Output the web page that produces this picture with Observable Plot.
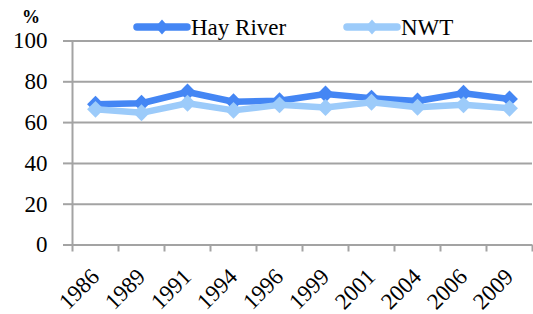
<!DOCTYPE html>
<html>
<head>
<meta charset="utf-8">
<script src="https://cdn.jsdelivr.net/npm/d3@7"></script>
<script src="https://cdn.jsdelivr.net/npm/@observablehq/plot@0.6"></script>
<style>
  body { margin: 0; background: white; }
  #wrap { position: relative; width: 533px; height: 314px; font-family: "Liberation Serif", "Times New Roman", Tinos, "DejaVu Serif", serif; }
  #pct { position: absolute; left: 22px; top: 7px; font-size: 18px; font-weight: bold; }
  .leg { position: absolute; top: 14px; display: flex; align-items: center; font-size: 23px; color: #000; }
  .leg svg { display: block; }
</style>
</head>
<body>
<div id="wrap">
  <div id="chart"></div>
  <div id="pct">%</div>
  <div class="leg" id="leg1" style="left:133px"></div>
  <div class="leg" id="leg2" style="left:343px"></div>
</div>
<script>
const years = ["1986","1989","1991","1994","1996","1999","2001","2004","2006","2009"];
const hayRiver = [69, 69.5, 75, 70.2, 70.7, 74, 72, 70.6, 74.4, 71.6];
const nwt = [66.5, 64.8, 69.5, 66, 68.7, 67.4, 70, 67.5, 68.7, 67];
const yTicks = [0, 20, 40, 60, 80, 100];
const seriesNames = ["Hay River", "NWT"];
const seriesColors = ["#4486f4", "#9ccbfa"];

const rows = [];
[hayRiver, nwt].forEach((vals, s) => {
  vals.forEach((v, i) => rows.push({series: seriesNames[s], year: years[i], idx: i + 0.5, value: v}));
});

const fontStack = '"Liberation Serif", "Times New Roman", Tinos, "DejaVu Serif", serif';
const gray = "#a3a3a3";
const marks = [
  Plot.gridY(yTicks, {stroke: gray, strokeOpacity: 1, strokeWidth: 2}),
  Plot.frame({anchor: "left", stroke: gray, strokeWidth: 2}),
  Plot.axisY({ticks: yTicks, tickSize: 9, tickPadding: 16, stroke: gray, strokeWidth: 2, fill: "#000", fontSize: 23, label: null}),
  Plot.axisX({ticks: d3.range(years.length + 1), tickSize: 7, tickFormat: () => "", stroke: gray, strokeWidth: 2, label: null}),
  Plot.axisX({ticks: years.map((_, i) => i + 0.5), tickFormat: t => years[Math.floor(t)], tickSize: 0, tickPadding: 28, tickRotate: -45, fill: "#000", fontSize: 23, label: null})
];
seriesNames.forEach((name, s) => {
  const d = rows.filter(r => r.series === name);
  marks.push(Plot.line(d, {x: "idx", y: "value", stroke: seriesColors[s], strokeWidth: 6.5, strokeLinejoin: "round", strokeLinecap: "round"}));
  marks.push(Plot.dot(d, {x: "idx", y: "value", symbol: "diamond2", r: 7.6, fill: seriesColors[s], stroke: "none"}));
});

const chart = Plot.plot({
  width: 533,
  height: 314,
  marginLeft: 72,
  marginRight: 1,
  marginTop: 40.5,
  marginBottom: 69.5,
  style: {fontFamily: fontStack, fontSize: "23px", background: "white", color: "#000"},
  x: {type: "linear", domain: [0, years.length], axis: null},
  y: {domain: [0, 100], axis: null},
  marks
});
document.getElementById("chart").appendChild(chart);

function legendItem(el, name, color) {
  const svgNS = "http://www.w3.org/2000/svg";
  const svg = document.createElementNS(svgNS, "svg");
  svg.setAttribute("width", 58); svg.setAttribute("height", 16);
  const ln = document.createElementNS(svgNS, "line");
  ln.setAttribute("x1", 4); ln.setAttribute("x2", 54); ln.setAttribute("y1", 8); ln.setAttribute("y2", 8);
  ln.setAttribute("stroke", color); ln.setAttribute("stroke-width", 7.5); ln.setAttribute("stroke-linecap", "round");
  const dm = document.createElementNS(svgNS, "path");
  dm.setAttribute("d", "M29,0.5 L35.5,8 L29,15.5 L22.5,8 Z");
  dm.setAttribute("fill", color);
  svg.appendChild(ln); svg.appendChild(dm);
  const t = document.createElement("span");
  t.textContent = name;
  t.style.position = "relative"; t.style.top = "1px";
  el.appendChild(svg); el.appendChild(t);
}
legendItem(document.getElementById("leg1"), seriesNames[0], seriesColors[0]);
legendItem(document.getElementById("leg2"), seriesNames[1], seriesColors[1]);
</script>
</body>
</html>
